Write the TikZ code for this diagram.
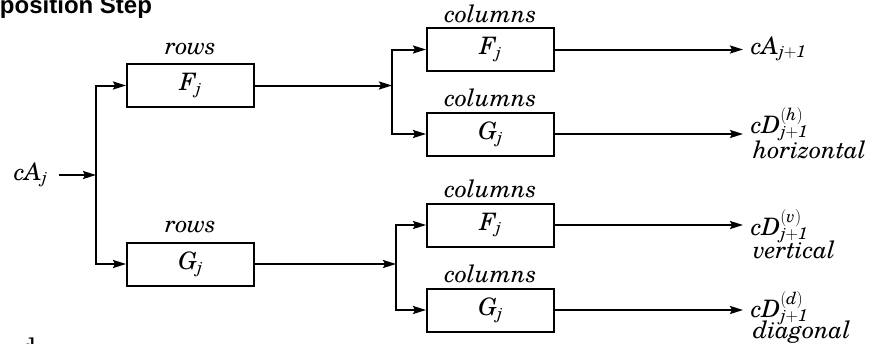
\documentclass[tikz,border=0pt]{standalone}
\usepackage{fontspec}
\setmainfont{texgyreschola}[Extension=.otf, UprightFont=*-regular, ItalicFont=*-italic, BoldFont=*-bold, BoldItalicFont=*-bolditalic]
\newfontfamily\titlefont{Liberation Sans}
\usetikzlibrary{arrows.meta}
\newcommand{\mi}[1]{\mathit{#1}}
\begin{document}
\begin{tikzpicture}[x=1pt,y=-1pt,
  line width=2pt,
  >={Stealth[length=13pt,width=8pt,inset=2pt]},
  txt/.style={inner sep=0pt, font=\fontsize{24}{28}\selectfont},
  lbl/.style={inner sep=0pt, font=\fontsize{24}{28}\selectfont\itshape, anchor=base},
  box/.style={draw, line width=2pt, minimum width=127pt, minimum height=43pt, inner sep=0pt, font=\fontsize{24}{28}\selectfont}]
\useasboundingbox (0,0) rectangle (877,343);
\clip (0,0) rectangle (877,343);

% title (cut off at the left edge)
\node[inner sep=0pt, anchor=base east, font=\titlefont\bfseries\fontsize{24}{28}\selectfont] (title) at (153,13) {Decomposition Step};
\node[txt, anchor=base west] (frag) at (21,355) {d};

% row filters
\node[box] (rF) at (190.5,85.5) {$\mi{F}_{\mi{j}}$};
\node[box] (rG) at (190.5,264) {$\mi{G}_{\mi{j}}$};
\node[lbl] (lrF) at ([yshift=9pt]rF.north) {rows};
\node[lbl] (lrG) at ([yshift=9pt]rG.north) {rows};

% column filters
\node[box] (cF1) at (490.5,49.5) {$\mi{F}_{\mi{j}}$};
\node[box] (cG1) at (490.5,134) {$\mi{G}_{\mi{j}}$};
\node[box] (cF2) at (490.5,225) {$\mi{F}_{\mi{j}}$};
\node[box] (cG2) at (490.5,310) {$\mi{G}_{\mi{j}}$};
\node[lbl] (lcF1) at ([yshift=5pt]cF1.north) {columns};
\node[lbl] (lcG1) at ([yshift=5pt]cG1.north) {columns};
\node[lbl] (lcF2) at ([yshift=5pt]cF2.north) {columns};
\node[lbl] (lcG2) at ([yshift=5pt]cG2.north) {columns};

% input
\node[txt, anchor=base west] (in) at (13,180) {$\mi{cA}_{\mi{j}}$};
\coordinate (j1) at (96,175);
\draw[->] (59,175) -- (j1);
\draw[->] (j1) |- (rF.west);
\draw[->] (j1) |- (rG.west);

% junctions after row filters
\coordinate (j2) at (392,85.5);
\coordinate (j3) at (396,264);
\draw[->] (rF.east) -- (j2);
\draw[->] (rG.east) -- (j3);
\draw[->] (j2) |- (cF1.west);
\draw[->] (j2) |- (cG1.west);
\draw[->] (j3) |- (cF2.west);
\draw[->] (j3) |- (cG2.west);

% outputs
\coordinate (o1) at (743,49.5);
\coordinate (o2) at (743,134);
\coordinate (o3) at (743,225);
\coordinate (o4) at (743,310);
\draw[->] (cF1.east) -- (o1);
\draw[->] (cG1.east) -- (o2);
\draw[->] (cF2.east) -- (o3);
\draw[->] (cG2.east) -- (o4);

\node[txt, anchor=base west] (tA) at (750,54) {$\mi{cA}_{\mi{j+1}}$};
\node[txt, anchor=base west] (tH) at (750,133) {$\mi{cD}^{\mi{(h)}}_{\mi{j+1}}$};
\node[txt, anchor=base west, font=\fontsize{24}{28}\selectfont\itshape] (tH2) at (752,158) {horizontal};
\node[txt, anchor=base west] (tV) at (750,235) {$\mi{cD}^{\mi{(v)}}_{\mi{j+1}}$};
\node[txt, anchor=base west, font=\fontsize{24}{28}\selectfont\itshape] (tV2) at (752,258) {vertical};
\node[txt, anchor=base west] (tD) at (750,317) {$\mi{cD}^{\mi{(d)}}_{\mi{j+1}}$};
\node[txt, anchor=base west, font=\fontsize{24}{28}\selectfont\itshape] (tD2) at (752,338) {diagonal};
\end{tikzpicture}
\end{document}
